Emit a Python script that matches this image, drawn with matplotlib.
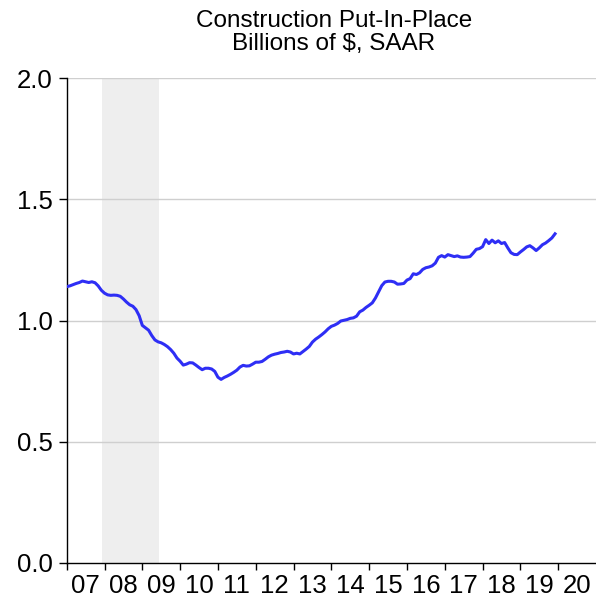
import matplotlib
matplotlib.use("Agg")
import matplotlib.pyplot as plt
import numpy as np
import pandas as pd

plt.rcParams['font.family'] = ['Liberation Sans', 'DejaVu Sans']

# Monthly values, Jan 2007 .. Dec 2019
values = [
    1.140, 1.143, 1.148, 1.153, 1.157, 1.163, 1.160, 1.157, 1.160, 1.156, 1.143, 1.125,
    1.113, 1.106, 1.104, 1.105, 1.104, 1.100, 1.089, 1.076, 1.065, 1.059, 1.045, 1.020,
    0.980, 0.970, 0.960, 0.938, 0.920, 0.912, 0.908, 0.901, 0.892, 0.880, 0.865, 0.845,
    0.832, 0.816, 0.820, 0.826, 0.825, 0.816, 0.806, 0.797, 0.803, 0.803, 0.800, 0.790,
    0.766, 0.757, 0.765, 0.771, 0.778, 0.786, 0.795, 0.808, 0.815, 0.812, 0.813, 0.820,
    0.828, 0.828, 0.831, 0.840, 0.850, 0.857, 0.861, 0.864, 0.868, 0.870, 0.873, 0.870,
    0.862, 0.865, 0.862, 0.872, 0.882, 0.893, 0.911, 0.923, 0.932, 0.942, 0.953, 0.966,
    0.976, 0.981, 0.988, 0.998, 1.001, 1.004, 1.009, 1.011, 1.018, 1.036, 1.043, 1.054,
    1.063, 1.073, 1.093, 1.119, 1.144, 1.159, 1.162, 1.162, 1.159, 1.150, 1.151, 1.153,
    1.167, 1.173, 1.193, 1.190, 1.197, 1.211, 1.218, 1.221, 1.226, 1.237, 1.261, 1.268,
    1.262, 1.272, 1.268, 1.264, 1.267, 1.262, 1.261, 1.262, 1.264, 1.278, 1.294, 1.297,
    1.305, 1.334, 1.318, 1.332, 1.321, 1.329, 1.318, 1.322, 1.300, 1.280, 1.273, 1.272,
    1.283, 1.293, 1.304, 1.309, 1.300, 1.289, 1.300, 1.313, 1.320, 1.330, 1.341, 1.358,
]
start_month = "2007-01"
recession = ("2007-12", "2009-06")
year_labels = ["07", "08", "09", "10", "11", "12", "13", "14", "15", "16", "17", "18", "19", "20"]
title = "Construction Put-In-Place\nBillions of $, SAAR"

dates = pd.date_range(start_month, periods=len(values), freq="MS")
t = dates.year + (dates.month - 1) / 12.0

def dec(s):
    d = pd.Timestamp(s)
    return d.year + (d.month - 1) / 12.0

fig = plt.figure(figsize=(5.96, 5.97), dpi=100)
ax = fig.add_axes([0.1119, 0.0574, 0.8881, 0.8114])

ax.axvspan(dec(recession[0]) + 0.03, dec(recession[1]) + 0.03, color="#eeeeee", lw=0, zorder=0)
for yv in [0.5, 1.0, 1.5, 2.0]:
    ax.axhline(yv, color="#cfcfcf", lw=1.0, zorder=1)
ax.plot(t, values, color="#2e2ef5", lw=2.2, zorder=3, solid_joinstyle="round")

ax.set_xlim(2007, 2021)
ax.set_ylim(0, 2.0)
ax.set_yticks([0, 0.5, 1.0, 1.5, 2.0])
ax.set_yticklabels(["0.0", "0.5", "1.0", "1.5", "2.0"])
years = np.arange(2007, 2007 + len(year_labels))
ax.set_xticks(years)
ax.set_xticklabels([])
ax.set_xticks(years + 0.5, minor=True)
ax.set_xticklabels(year_labels, minor=True)
ax.tick_params(axis="x", which="major", length=5, width=1, color="black", direction="out")
ax.tick_params(axis="x", which="minor", length=0, labelsize=18.5, pad=8)
ax.tick_params(axis="y", length=6, width=1, labelsize=18.5, pad=4)

for s in ["top", "right"]:
    ax.spines[s].set_visible(False)
for s in ["left", "bottom"]:
    ax.spines[s].set_color("black")
    ax.spines[s].set_linewidth(1.0)

fig.text(0.56, 0.946, title, ha="center", va="center", fontsize=17.5, linespacing=1.05)

fig.savefig("out.png", dpi=100)
